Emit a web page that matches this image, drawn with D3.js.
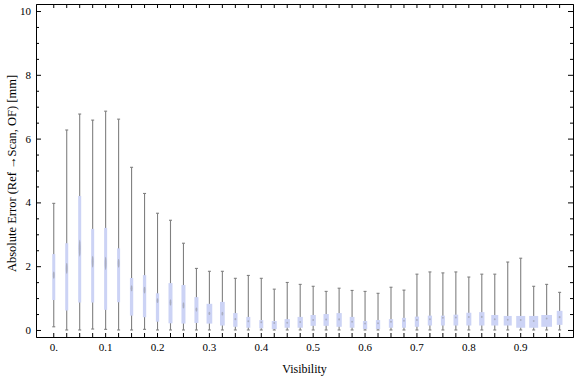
<!DOCTYPE html>
<html>
<head>
<meta charset="utf-8">
<script src="https://cdn.jsdelivr.net/npm/d3@7"></script>
<style>
  body { margin: 0; background: #fff; }
  svg { display: block; }
  .axis text { font-family: "Liberation Serif", "Times New Roman", serif; font-size: 11px; fill: #000; }
  .axis path, .axis line { stroke: #000; }
  .title { font-family: "Liberation Serif", "Times New Roman", serif; font-size: 12px; fill: #000; }
</style>
</head>
<body>
<script>
var w = 576;
var h = 377;

// one box per visibility bin, 0.025 wide
const binLabels = ["0.", "0.1", "0.2", "0.3", "0.4", "0.5", "0.6", "0.7", "0.8", "0.9"];
const whiskerLow = [0.1, 0, 0, 0.03, 0.02, 0, 0, 0.02, 0, 0,
                    0, 0, 0, 0, 0, 0, 0, 0, 0, 0,
                    0, 0, 0, 0, 0, 0, 0, 0, 0, 0,
                    0, 0, 0, 0, 0, 0, 0, 0, 0, 0];
const quart1 = [0.94, 0.61, 0.86, 0.86, 0.63, 0.87, 0.45, 0.40, 0.26, 0.21,
                0.20, 0.22, 0.20, 0.14, 0.10, 0.07, 0.05, 0.03, 0.07, 0.07,
                0.13, 0.13, 0.10, 0.07, 0.03, 0.03, 0.07, 0.07, 0.10, 0.14,
                0.14, 0.14, 0.14, 0.14, 0.14, 0.14, 0.07, 0.07, 0.10, 0.16];
const medians = [1.72, 1.93, 2.56, 2.14, 2.09, 2.09, 1.31, 1.25, 0.92, 0.86,
                 0.77, 0.64, 0.52, 0.51, 0.34, 0.27, 0.24, 0.22, 0.23, 0.25,
                 0.31, 0.33, 0.33, 0.26, 0.20, 0.21, 0.26, 0.29, 0.31, 0.34,
                 0.38, 0.39, 0.41, 0.41, 0.34, 0.32, 0.31, 0.28, 0.36, 0.40];
const quart3 = [2.38, 2.72, 4.20, 3.17, 3.20, 2.56, 1.63, 1.72, 1.15, 1.47,
                1.41, 1.03, 0.82, 0.88, 0.53, 0.41, 0.31, 0.28, 0.34, 0.41,
                0.47, 0.50, 0.53, 0.41, 0.28, 0.31, 0.34, 0.38, 0.42, 0.45,
                0.45, 0.48, 0.54, 0.56, 0.47, 0.44, 0.44, 0.44, 0.47, 0.60];
const whiskerHigh = [3.97, 6.27, 6.77, 6.58, 6.86, 6.61, 5.10, 4.28, 3.66, 3.44,
                     2.72, 1.93, 1.84, 1.84, 1.62, 1.71, 1.62, 1.28, 1.49, 1.43,
                     1.37, 1.21, 1.31, 1.24, 1.21, 1.15, 1.34, 1.25, 1.75, 1.82,
                     1.79, 1.82, 1.66, 1.75, 1.75, 2.13, 2.25, 1.37, 1.43, 1.18];
// relative box weight (box width in the original scales with it)
const boxWeight = [1, 1, 1, 1, 1, 1, 1.1, 1.1, 1.1, 1.33,
                   1.33, 1.33, 1.9, 1.57, 1.43, 1.33, 1.33, 1.67, 1.77, 1.77,
                   1.77, 1.77, 1.77, 1.57, 1.43, 1.43, 1.43, 1.33, 1.43, 1.43,
                   1.33, 1.57, 1.67, 1.77, 2.33, 2.67, 3, 3, 3.57, 1.9];
const yTicks = [0, 2, 4, 6, 8, 10];

const boxes = medians.map((m, i) => ({
    i: i,
    lo: whiskerLow[i],
    q1: quart1[i],
    med: m,
    q3: quart3[i],
    hi: whiskerHigh[i],
    wt: boxWeight[i]
}));

// frame edges
const fLeft = 36, fRight = 573, fTop = 4, fBottom = 337;

const xScale = d3.scaleLinear()
    .domain([-1.33, 40.07])
    .range([fLeft, fRight]);

const yScale = d3.scaleLinear()
    .domain([-0.22, 10.22])
    .range([fBottom, fTop]);

const widthScale = d3.scaleLinear()
    .domain([0, 1])
    .range([0, 3]);

const svg = d3.select("body")
    .append("svg")
    .attr("width", w)
    .attr("height", h);

const idx = d3.range(boxes.length);
const minorY = d3.range(0, 10.01, 0.5).filter(v => v % 2 !== 0);

// bottom axis: a tick for every box, a label every fourth
svg.append("g")
    .attr("class", "axis")
    .attr("transform", `translate(0, ${fBottom})`)
    .call(d3.axisBottom(xScale)
        .tickValues(idx)
        .tickSizeInner(-4)
        .tickSizeOuter(0)
        .tickPadding(6)
        .tickFormat(i => i % 4 === 0 ? binLabels[i / 4] : ""));

svg.append("g")
    .attr("class", "axis")
    .attr("transform", `translate(0, ${fTop})`)
    .call(d3.axisTop(xScale)
        .tickValues(idx)
        .tickSizeInner(-4)
        .tickSizeOuter(0)
        .tickFormat(""));

// left axis, major + minor
svg.append("g")
    .attr("class", "axis")
    .attr("transform", `translate(${fLeft}, 0)`)
    .call(d3.axisLeft(yScale)
        .tickValues(yTicks)
        .tickSizeInner(-5)
        .tickSizeOuter(0)
        .tickPadding(5)
        .tickFormat(d3.format("d")));

svg.append("g")
    .attr("class", "axis")
    .attr("transform", `translate(${fLeft}, 0)`)
    .call(d3.axisLeft(yScale)
        .tickValues(minorY)
        .tickSizeInner(-3)
        .tickSizeOuter(0)
        .tickFormat(""));

svg.append("g")
    .attr("class", "axis")
    .attr("transform", `translate(${fRight}, 0)`)
    .call(d3.axisRight(yScale)
        .tickValues(yTicks)
        .tickSizeInner(-5)
        .tickSizeOuter(0)
        .tickFormat(""));

svg.append("g")
    .attr("class", "axis")
    .attr("transform", `translate(${fRight}, 0)`)
    .call(d3.axisRight(yScale)
        .tickValues(minorY)
        .tickSizeInner(-3)
        .tickSizeOuter(0)
        .tickFormat(""));

// boxes
const g = svg.append("g").selectAll("g")
    .data(boxes)
    .join("g");

g.append("line")
    .attr("x1", d => xScale(d.i) + 0.5)
    .attr("x2", d => xScale(d.i) + 0.5)
    .attr("y1", d => yScale(d.lo))
    .attr("y2", d => yScale(d.hi))
    .attr("stroke", "#808080")
    .attr("stroke-width", 1.1);

// whisker caps
g.append("line")
    .attr("x1", d => xScale(d.i) - 1)
    .attr("x2", d => xScale(d.i) + 2)
    .attr("y1", d => yScale(d.hi))
    .attr("y2", d => yScale(d.hi))
    .attr("stroke", "#808080")
    .attr("stroke-width", 1.1);

g.append("line")
    .attr("x1", d => xScale(d.i) - 1)
    .attr("x2", d => xScale(d.i) + 2)
    .attr("y1", d => yScale(d.lo))
    .attr("y2", d => yScale(d.lo))
    .attr("stroke", "#808080")
    .attr("stroke-width", 1.1);

g.append("rect")
    .attr("x", d => xScale(d.i) + 0.5 - widthScale(d.wt) / 2)
    .attr("width", d => widthScale(d.wt))
    .attr("y", d => yScale(d.q3))
    .attr("height", d => yScale(d.q1) - yScale(d.q3))
    .attr("fill", "#ccd3f5");

// median smudge
g.append("ellipse")
    .attr("cx", d => xScale(d.i) + 0.5)
    .attr("cy", d => yScale(d.med))
    .attr("rx", 0.9)
    .attr("ry", d => Math.max(1, 0.08 * (yScale(d.q1) - yScale(d.q3))))
    .attr("fill", "#808080")
    .attr("opacity", 0.45);

// titles
svg.append("text")
    .attr("class", "title")
    .attr("x", (fLeft + fRight) / 2)
    .attr("y", 372.5)
    .attr("text-anchor", "middle")
    .text("Visibility");

svg.append("text")
    .attr("class", "title")
    .attr("transform", `translate(15.5, ${(fTop + fBottom) / 2 + 3}) rotate(-90)`)
    .attr("text-anchor", "middle")
    .style("font-size", "12.5px")
    .text("Absolute Error (Ref →Scan, OF) [mm]");
</script>
</body>
</html>
